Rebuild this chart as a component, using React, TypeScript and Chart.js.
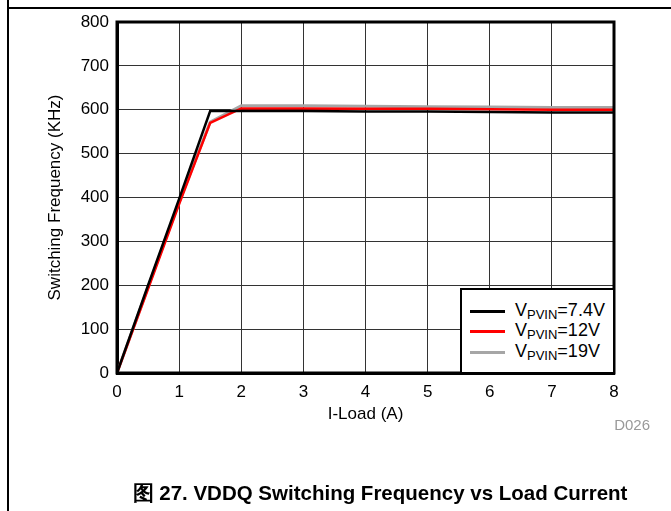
import React, { useEffect, useRef } from "react";
import { Chart, registerables } from "chart.js";

Chart.register(...registerables);

const loadA = [0, 0.5, 1, 1.5, 2, 3, 4, 5, 6, 7, 8];
const freqV74 = [0, 200, 397, 597, 597, 597, 596, 596, 595, 594, 594];
const freqV12 = [0, 192, 385, 570, 603, 603, 602, 602, 601, 600, 600];
const freqV19 = [0, 196, 390, 572, 609, 609, 608, 607, 606, 605, 605];
const xTicks = [0, 1, 2, 3, 4, 5, 6, 7, 8];
const yTicks = [0, 100, 200, 300, 400, 500, 600, 700, 800];
const seriesNames = ["=7.4V", "=12V", "=19V"];
const seriesColors = ["#000000", "#ff0000", "#a6a6a6"];

const FONT = 'Arial, "Liberation Sans", sans-serif';

const frameBox = {
  id: "frameBox",
  afterDatasetsDraw(chart: any) {
    const { ctx, chartArea } = chart;
    ctx.save();
    ctx.strokeStyle = "#000";
    ctx.lineWidth = 3;
    ctx.strokeRect(chartArea.left, chartArea.top, chartArea.right - chartArea.left, chartArea.bottom - chartArea.top);
    ctx.restore();
  },
};

function toPts(ys: number[]) {
  return loadA.map((x, i) => ({ x, y: ys[i] }));
}

export default function App() {
  const ref = useRef<HTMLCanvasElement | null>(null);
  useEffect(() => {
    if (!ref.current) return;
    const chart = new Chart(ref.current, {
      type: "line",
      data: {
        datasets: [
          { label: "7.4V", data: toPts(freqV74), borderColor: seriesColors[0], borderWidth: 2.5, pointRadius: 0, tension: 0 },
          { label: "12V", data: toPts(freqV12), borderColor: seriesColors[1], borderWidth: 2.5, pointRadius: 0, tension: 0 },
          { label: "19V", data: toPts(freqV19), borderColor: seriesColors[2], borderWidth: 3, pointRadius: 0, tension: 0 },
        ],
      },
      options: {
        animation: false,
        responsive: false,
        maintainAspectRatio: false,
        layout: { padding: { top: 22, right: 57, bottom: 78, left: 0 } },
        plugins: { legend: { display: false }, tooltip: { enabled: false } },
        scales: {
          x: {
            type: "linear",
            min: 0,
            max: 8,
            afterBuildTicks: (s: any) => { s.ticks = xTicks.map((v) => ({ value: v })); },
            afterFit: (s: any) => { s.height = 60; },
            ticks: { color: "#000", padding: 9, font: { family: FONT, size: 17 }, maxRotation: 0 },
            grid: { color: "#333", lineWidth: 1, drawTicks: false },
            border: { display: true, color: "#000", width: 3 },
            title: { display: true, text: "I-Load (A)", color: "#000", font: { family: FONT, size: 17 }, padding: { top: 0, bottom: 8 } },
          },
          y: {
            type: "linear",
            min: 0,
            max: 800,
            afterBuildTicks: (s: any) => { s.ticks = yTicks.map((v) => ({ value: v })); },
            afterFit: (s: any) => { s.width = 117; },
            ticks: { color: "#000", padding: 8, font: { family: FONT, size: 17 } },
            grid: { color: "#333", lineWidth: 1, drawTicks: false },
            border: { display: true, color: "#000", width: 3 },
            title: { display: true, text: "Switching Frequency (KHz)", color: "#000", font: { family: FONT, size: 17 }, padding: { top: 45, bottom: 0 } },
          },
        },
      },
      plugins: [frameBox],
    });
    return () => chart.destroy();
  }, []);

  const rowY = [311, 331, 352];
  return (
    <div style={{ position: "absolute", left: 0, top: 0, width: 671, height: 511, background: "#fff", overflow: "hidden", fontFamily: FONT }}>
      <canvas ref={ref} width={671} height={511} style={{ position: "absolute", left: 0, top: 0, width: 671, height: 511 }} />
      <div style={{ position: "absolute", left: 7, top: 0, width: 2, height: 511, background: "#000" }} />
      <div style={{ position: "absolute", left: 7, top: 7, width: 664, height: 2, background: "#000" }} />
      <div style={{ position: "absolute", left: 460, top: 288, width: 151, height: 82, border: "2px solid #000", background: "#fff" }} />
      {seriesNames.map((name, i) => (
        <React.Fragment key={name}>
          <div style={{ position: "absolute", left: 470, top: rowY[i] - 1.5, width: 35, height: 3, background: seriesColors[i] }} />
          <div style={{ position: "absolute", left: 515, top: rowY[i] - 12, height: 22, lineHeight: "22px", fontSize: 18, color: "#000", whiteSpace: "nowrap" }}>
            V<span style={{ fontSize: 13, position: "relative", top: 3 }}>PVIN</span>{name}
          </div>
        </React.Fragment>
      ))}
      <div style={{ position: "absolute", right: 21, top: 415, fontSize: 15, color: "#999", lineHeight: "20px" }}>D026</div>
      <div style={{ position: "absolute", left: 0, width: 760, top: 480, textAlign: "center", fontSize: 20.5, fontWeight: "bold", color: "#000", lineHeight: "26px" }}>
        图 27. VDDQ Switching Frequency vs Load Current
      </div>
    </div>
  );
}
